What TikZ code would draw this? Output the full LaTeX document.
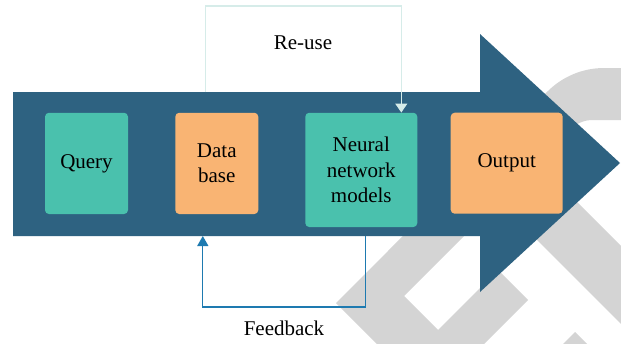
\documentclass[tikz,border=0pt]{standalone}
\usepackage{fontspec}
\setmainfont{Liberation Serif}
\usetikzlibrary{arrows.meta}

\definecolor{flowblue}{RGB}{46,98,129}
\definecolor{boxteal}{RGB}{74,193,173}
\definecolor{boxorange}{RGB}{249,180,115}
\definecolor{markgrey}{RGB}{212,212,212}
\definecolor{reusecol}{RGB}{214,236,233}
\definecolor{fbcol}{RGB}{30,122,176}

\begin{document}
\begin{tikzpicture}[x=1pt,y=-1pt,
  stage/.style={rounded corners=4pt, inner sep=0pt, align=center,
    font=\fontsize{21}{25.5}\selectfont, text=black},
  tealstage/.style={stage, fill=boxteal},
  orangestage/.style={stage, fill=boxorange},
  caption/.style={inner sep=0pt, font=\fontsize{21}{25.5}\selectfont, text=black},
  reuseline/.style={draw=reusecol, line width=1.1pt,
    -{Triangle[width=12pt,length=9pt]}},
  fbline/.style={draw=fbcol, line width=1.3pt,
    -{Triangle[width=11pt,length=10pt]}}]

\useasboundingbox (0,0) rectangle (621,343);
\fill[white] (0,0) rectangle (621,343);

% light grey background mark
\begin{scope}
  \clip (0,0) rectangle (621,343);
  \fill[markgrey] (336,303) -- (430.5,397.5) -- (528,300) -- (498,270)
    -- (438,330) -- (404,296) -- (571.2,128.8)
    arc[start angle=225, end angle=270, radius=30]
    -- (660,120) -- (660,68) -- (604.1,68)
    arc[start angle=270, end angle=225, radius=80] -- cycle;
  \fill[markgrey] (498.5,201.5) -- (537.5,162.5) -- (687.5,312.5)
    -- (648.5,351.5) -- cycle;
  \fill[markgrey] (575,332) -- (525,382) -- (625,382) -- cycle;
\end{scope}

% big process arrow
\fill[flowblue] (13,92) -- (480,92) -- (480,34) -- (620,163)
  -- (480,292) -- (480,236) -- (13,236) -- cycle;
\coordinate (bodytop) at (0,92);
\coordinate (bodybot) at (0,236);

% stages
\node[tealstage, minimum width=83pt, minimum height=101.3pt]
  (query) at (86.5,163.4) {Query};
\node[orangestage, minimum width=83pt, minimum height=101.3pt]
  (database) at (216.8,163.4) {Data\\base};
\node[tealstage, minimum width=112pt, minimum height=114.3pt]
  (neural) at (361.3,169.9) {Neural\\network\\models};
\node[orangestage, minimum width=112pt, minimum height=101pt]
  (output) at (506.7,163.2) {Output};

% loops
\draw[reuseline] ([xshift=-11pt]database.north |- bodytop) -- ++(0,-86)
  -| ([xshift=40pt]neural.north);
\draw[fbline] ([xshift=4pt]neural.south |- bodybot) -- ++(0,71)
  -| ([xshift=-14pt]database.south |- bodybot);

\node[caption] (reuselabel) at (303,43) {Re-use};
\node[caption] (fblabel) at (284,328) {Feedback};

\end{tikzpicture}
\end{document}
